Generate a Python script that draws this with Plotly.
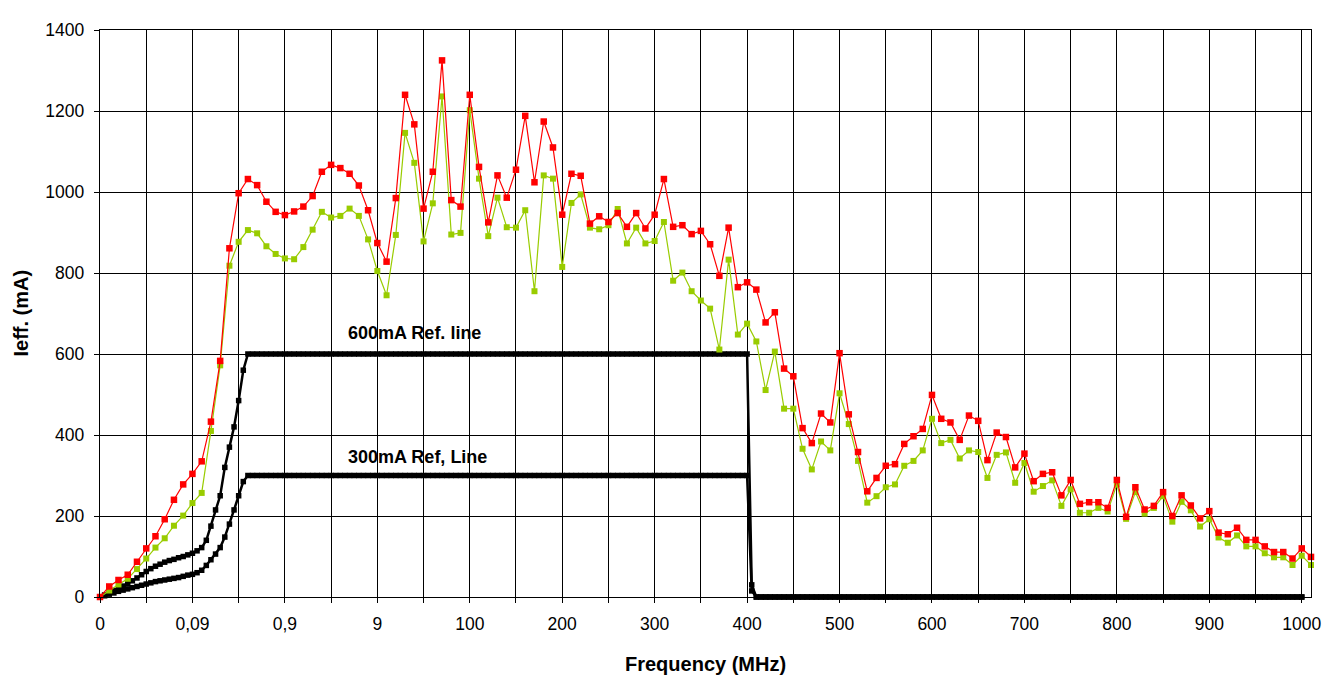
import plotly.graph_objects as go

# Category index (Excel category axis): 132 measurement points
categories = list(range(132))
tick_labels = ["0", "0,09", "0,9", "9", "100", "200", "300", "400", "500",
               "600", "700", "800", "900", "1000"]

red_values = [0, 26, 42, 55, 87, 120, 150, 192, 240, 278,
              304, 335, 433, 583, 861, 997, 1032, 1017, 976, 951,
              943, 952, 964, 990, 1050, 1067, 1059, 1045, 1016, 955,
              874, 828, 985, 1240, 1167, 959, 1050, 1325, 980, 964,
              1240, 1062, 925, 1041, 986, 1055, 1188, 1024, 1174, 1110,
              944, 1045, 1040, 922, 940, 926, 948, 914, 948, 910,
              944, 1032, 914, 918, 896, 904, 871, 793, 912, 765,
              777, 759, 678, 703, 564, 545, 417, 380, 453, 431,
              602, 451, 358, 261, 294, 324, 328, 378, 397, 415,
              499, 440, 431, 388, 448, 435, 338, 406, 395, 320,
              354, 286, 304, 308, 251, 289, 230, 234, 234, 220,
              289, 198, 271, 216, 225, 259, 200, 251, 226, 194,
              212, 159, 155, 171, 141, 141, 125, 111, 111, 95,
              120, 99]

green_values = [0, 16, 31, 45, 69, 95, 122, 145, 176, 201,
                232, 257, 410, 572, 818, 877, 906, 898, 866, 847,
                836, 834, 864, 907, 951, 937, 941, 959, 941, 883,
                805, 745, 894, 1146, 1072, 878, 972, 1236, 895, 899,
                1202, 1033, 891, 986, 913, 912, 955, 755, 1041, 1033,
                815, 973, 994, 912, 908, 918, 958, 873, 912, 873,
                879, 926, 781, 801, 755, 732, 712, 611, 833, 648,
                675, 631, 511, 606, 465, 465, 366, 315, 384, 362,
                503, 427, 336, 233, 249, 271, 278, 324, 336, 362,
                440, 380, 388, 342, 362, 358, 294, 351, 357, 282,
                331, 260, 274, 288, 225, 266, 208, 208, 220, 211,
                278, 193, 259, 206, 220, 249, 186, 235, 214, 174,
                192, 147, 134, 152, 125, 125, 108, 98, 98, 79,
                102, 79]

# Reference lines are sampled at half-category steps (0, 0.5, ... 130)
ref_positions = [i / 2 for i in range(261)]

ref600_values = ([0, 5, 10, 16, 21, 27, 33, 40, 47, 55, 63, 70, 76, 81, 86, 90,
                  93, 97, 100, 104, 108, 114, 122, 140, 175, 215, 250, 320, 370,
                  420, 485, 560, 600]
                 + [600] * 108      # flat 600 mA plateau
                 + [30]
                 + [0] * 119)

ref300_values = ([0, 3, 7, 10, 14, 17, 20, 23, 26, 29, 32, 35, 38, 40, 42, 44,
                  46, 48, 51, 54, 56, 60, 66, 78, 92, 106, 122, 148, 180, 215,
                  250, 285, 300]
                 + [300] * 108      # flat 300 mA plateau
                 + [15]
                 + [0] * 119)

FONT = "Liberation Sans, Arial, sans-serif"

fig = go.Figure()

for vals in (ref600_values, ref300_values):
    fig.add_trace(go.Scatter(
        x=ref_positions, y=vals, mode="lines+markers",
        line=dict(color="black", width=2.5),
        marker=dict(symbol="square", size=5.5, color="black"),
        cliponaxis=False, showlegend=False))

fig.add_trace(go.Scatter(
    x=categories, y=green_values, mode="lines+markers",
    line=dict(color="#99CC00", width=1.2),
    marker=dict(symbol="square", size=6, color="#99CC00"),
    cliponaxis=False, showlegend=False))

fig.add_trace(go.Scatter(
    x=categories, y=red_values, mode="lines+markers",
    line=dict(color="#FF0000", width=1.2),
    marker=dict(symbol="square", size=6.5, color="#FF0000"),
    cliponaxis=False, showlegend=False))

tickvals = list(range(0, 131, 5))
ticktext = [tick_labels[v // 10] if v % 10 == 0 else "" for v in tickvals]

fig.update_layout(
    width=1326, height=667,
    margin=dict(l=92, r=23, t=12, b=78),
    paper_bgcolor="white", plot_bgcolor="white",
    font=dict(family=FONT, size=17, color="black"),
    showlegend=False,
    xaxis=dict(
        range=[0, 131], tickmode="array", tickvals=tickvals, ticktext=ticktext,
        showgrid=True, gridcolor="black", gridwidth=1.4,
        showline=True, mirror=True, linecolor="black", linewidth=1.4,
        ticks="outside", ticklen=5, tickwidth=1.4, tickcolor="black",
        zeroline=False, ticklabelstandoff=6,
        tickfont=dict(family=FONT, size=17.5, color="black"),
    ),
    yaxis=dict(
        range=[0, 1400], tickmode="array", tickvals=list(range(0, 1401, 200)),
        showgrid=True, gridcolor="black", gridwidth=1.4,
        showline=True, mirror=True, linecolor="black", linewidth=1.4,
        ticks="outside", ticklen=5, tickwidth=1.4, tickcolor="black",
        zeroline=False, ticklabelstandoff=6,
        tickfont=dict(family=FONT, size=17.5, color="black"),
    ),
    annotations=[
        dict(text="<b>Frequency (MHz)</b>", xref="paper", yref="paper",
             x=0.5, y=0, yshift=-67, xanchor="center", yanchor="middle",
             showarrow=False, font=dict(family=FONT, size=20, color="black")),
        dict(text="<b>Ieff. (mA)</b>", xref="paper", yref="paper",
             x=0, y=0.5, xshift=-80, xanchor="center", yanchor="middle",
             textangle=-90, showarrow=False,
             font=dict(family=FONT, size=20, color="black")),
        dict(text="<b>600mA Ref. line</b>", xref="x", yref="y",
             x=26.6, y=653, xanchor="left", yanchor="middle", showarrow=False,
             font=dict(family=FONT, size=18, color="black")),
        dict(text="<b>300mA Ref, Line</b>", xref="x", yref="y",
             x=26.6, y=345, xanchor="left", yanchor="middle", showarrow=False,
             font=dict(family=FONT, size=18, color="black")),
    ],
)

fig.write_html("out.html")
